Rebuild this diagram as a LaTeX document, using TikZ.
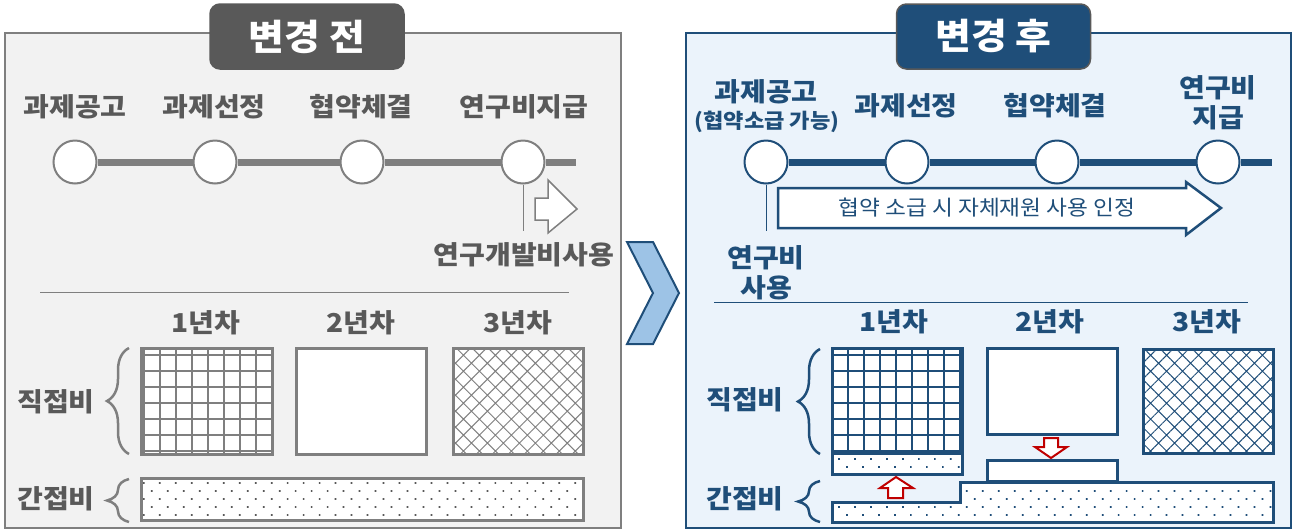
\documentclass[tikz,border=0pt]{standalone}
\usepackage{fontspec}
\setmainfont{Noto Sans CJK KR}[FakeStretch=1.08]
\usetikzlibrary{decorations.pathreplacing,patterns.meta}

\definecolor{grayline}{HTML}{7F7F7F}
\definecolor{grayback}{HTML}{F2F2F2}
\definecolor{graydark}{HTML}{595959}
\definecolor{navy}{HTML}{1F4E79}
\definecolor{blueback}{HTML}{EBF3FB}
\definecolor{chevblue}{HTML}{9DC3E6}
\definecolor{redarr}{HTML}{C00000}

\begin{document}
\begin{tikzpicture}[x=1pt, y=-1pt,
    panel/.style={draw=#1, line width=2pt},
    titlebox/.style={draw=graydark, line width=1.5pt, rounded corners=10pt, fill=#1,
        text=white, minimum width=194pt, minimum height=65pt,
        font=\fontsize{36}{40}\selectfont\bfseries},
    lbl/.style={text=#1, inner sep=0pt, font=\fontsize{26}{30}\selectfont\bfseries},
    sublbl/.style={text=#1, inner sep=0pt, font=\fontsize{20.5}{24}\selectfont\bfseries},
    stage/.style={circle, draw=#1, fill=white, line width=2pt, minimum size=43pt, inner sep=0pt},
    tline/.style={draw=#1, line width=7pt},
    callout/.style={draw=#1, line width=1pt},
    sepln/.style={draw=#1, line width=1pt},
    blockarr/.style={draw=#1, fill=white, line width=2pt, line join=miter},
    boxln/.style={draw=#1, line width=3pt, preaction={fill=white}},
    gridpat/.style={pattern={Hatch[angle=0, distance=16pt, line width=2.2pt]}, pattern color=#1},
    crosspat/.style={pattern={Hatch[angle=45, distance=11.3pt, line width=1pt]}, pattern color=#1},
    dotpat/.style={pattern={Dots[angle=45, distance=11.3pt, radius=1.2pt]}, pattern color=#1},
    brc/.style={draw=#1, line width=2.5pt, decorate, decoration={brace, amplitude=22pt}},
    redup/.style={draw=redarr, fill=white, line width=2pt, line join=miter}
]
\useasboundingbox (0,0) rectangle (1296,531);

% panels
\draw[panel=grayline, fill=grayback] (5,33) rectangle (621,528);
\draw[panel=navy, fill=blueback] (686,33) rectangle (1291,528);
\node[titlebox=graydark] (tb) at (307,36.5) {변경 전};
\node[titlebox=navy] (ta) at (993.5,36.5) {변경 후};

% change chevron
\draw[draw=navy, fill=chevblue, line width=2pt, line join=miter]
    (627,242) -- (653,242) -- (679,293) -- (653,344) -- (627,344) -- (653,293) -- cycle;

%%% before
\node[lbl=graydark] (l1) at (75,107) {과제공고};
\node[lbl=graydark] (l2) at (214,107) {과제선정};
\node[lbl=graydark] (l3) at (361,107) {협약체결};
\node[lbl=graydark] (l4) at (524,107) {연구비지급};
\node[stage=grayline] (p1) at (75,162) {};
\node[stage=grayline] (p2) at (215,162) {};
\node[stage=grayline] (p3) at (362,162) {};
\node[stage=grayline] (p4) at (523,162) {};
\coordinate (pend) at (576,162);
\draw[tline=grayline] (p1) -- (p2) -- (p3) -- (p4) -- (pend);
\coordinate (pc) at (523,231);
\draw[callout=grayline] (p4.south) -- (pc);
\draw[blockarr=grayline, line width=1.5pt]
    (535,198) -- (548,198) -- (548,180) -- (577,209) -- (548,233) -- (548,220) -- (535,220) -- cycle;
\node[lbl=graydark] (use) at (524,255) {연구개발비사용};

\draw[sepln=grayline] (40,292) -- (569,292);
\node[lbl=graydark] (y1) at (206,323) {1년차};
\node[lbl=graydark] (y2) at (361,323) {2년차};
\node[lbl=graydark] (y3) at (518,323) {3년차};

\draw[boxln=grayline, gridpat=grayline] (141,348) rectangle (272,454);
\draw[boxln=grayline] (296,348) rectangle (426,454);
\draw[boxln=grayline, crosspat=grayline] (453,348) rectangle (583,454);
\draw[boxln=grayline, dotpat=graydark] (141,478) rectangle (583,520);

\draw[brc=grayline] (129,454) -- (129,348);
\draw[brc=grayline] (129,522) -- (129,479);
\node[lbl=graydark] (d1) at (56,402) {직접비};
\node[lbl=graydark] (i1) at (56,499) {간접비};

%%% after
\node[lbl=navy] (m1) at (766,92) {과제공고};
\node[sublbl=navy] (m1s) at (767,122) {(협약소급 가능)};
\node[lbl=navy] (m2) at (906,106) {과제선정};
\node[lbl=navy] (m3) at (1055,106) {협약체결};
\node[lbl=navy] (m4) at (1218,88) {연구비};
\node[lbl=navy] (m4s) at (1218,118) {지급};
\node[stage=navy] (q1) at (766,162) {};
\node[stage=navy] (q2) at (907,162) {};
\node[stage=navy] (q3) at (1057,162) {};
\node[stage=navy] (q4) at (1218,162) {};
\coordinate (qend) at (1272,162);
\draw[tline=navy] (q1) -- (q2) -- (q3) -- (q4) -- (qend);
\coordinate (qc) at (766,231);
\draw[callout=navy] (q1.south) -- (qc);
\draw[blockarr=navy, line width=2.5pt]
    (778,188) -- (1186,188) -- (1186,182) -- (1221,208) -- (1186,235) -- (1186,228) -- (778,228) -- cycle;
\node[text=navy, font=\fontsize{21}{24}\selectfont] (own) at (987,208) {협약 소급 시 자체재원 사용 인정};
\node[lbl=navy] (r1) at (766,258) {연구비};
\node[lbl=navy] (r2) at (766,288) {사용};

\draw[sepln=navy] (714,302) -- (1248,302);
\node[lbl=navy] (z1) at (894,322) {1년차};
\node[lbl=navy] (z2) at (1050,322) {2년차};
\node[lbl=navy] (z3) at (1207,322) {3년차};

\draw[boxln=navy, gridpat=navy] (832,348) rectangle (962,453);
\draw[boxln=navy, dotpat=navy] (832,453) rectangle (962,474);
\draw[boxln=navy] (987,348) rectangle (1117,434);
\draw[boxln=navy] (987,460) rectangle (1117,481);
\draw[boxln=navy, crosspat=navy] (1143,349) rectangle (1273,453);
\draw[boxln=navy, dotpat=navy]
    (832,502) -- (960,502) -- (960,482) -- (1273,482) -- (1273,522) -- (832,522) -- cycle;

% shifts between cost types
\draw[redup] (888,498) -- (888,488) -- (880,488) -- (896,477) -- (913,488) -- (903,488) -- (903,498) -- cycle;
\draw[redup] (1044,438) -- (1058,438) -- (1058,447) -- (1067,447) -- (1051,458) -- (1035,447) -- (1044,447) -- cycle;

\draw[brc=navy] (820,454) -- (820,349);
\draw[brc=navy] (820,522) -- (820,481);
\node[lbl=navy] (d2) at (745,400) {직접비};
\node[lbl=navy] (i2) at (745,499) {간접비};
\end{tikzpicture}
\end{document}
